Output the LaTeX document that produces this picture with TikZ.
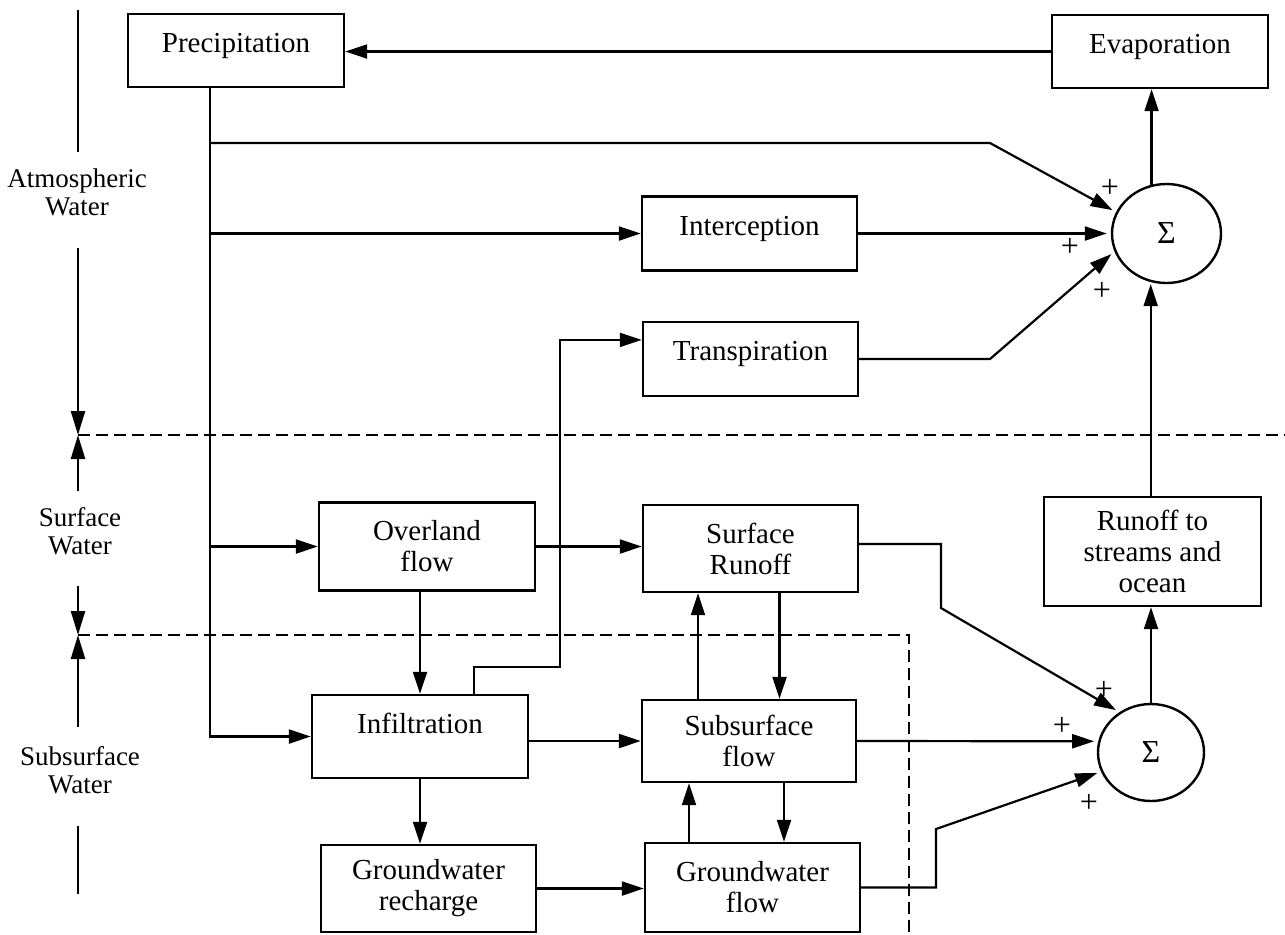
\documentclass[tikz,border=0pt]{standalone}
\usepackage{fontspec}
\setmainfont{Liberation Serif}
\usetikzlibrary{arrows.meta,shapes.geometric,calc}
\begin{document}
\begin{tikzpicture}[x=0.5pt,y=-0.5pt,
  every node/.style={font=\fontsize{14.5}{15.5}\selectfont},
  box/.style={draw, line width=1.2pt, rectangle, inner sep=2pt},
  one/.style={text height=10pt, text depth=#1},
  one/.default=8.4pt,
  two/.style={align=center},
  sig/.style={draw, line width=1.2pt, ellipse, inner sep=0pt},
  arr/.style={line width=1.1pt, -{Triangle[length=11pt,width=7pt]}},
  arrL/.style={line width=1.2pt, -{Triangle[length=12pt,width=7pt]}},
  ln/.style={line width=1.2pt},
  dsh/.style={line width=1pt, dash pattern=on 6pt off 3pt},
  side/.style={font=\fontsize{13.5}{14}\selectfont, align=center},
  pl/.style={font=\fontsize{16}{16}\selectfont, inner sep=0pt}
]
\useasboundingbox (0,0) rectangle (1285,934);

% boxes
\node[box, one, minimum width=108pt, minimum height=36.5pt] (precip) at (236,50.5) {Precipitation};
\node[box, one, minimum width=108pt, minimum height=36.5pt] (evap) at (1160,51.5) {Evaporation};
\node[box, one, minimum width=107.5pt, minimum height=37pt] (intercept) at (749.5,233.5) {Interception};
\node[box, one, minimum width=107.5pt, minimum height=37pt] (transp) at (750.5,359) {Transpiration};
\node[box, two, minimum width=108pt, minimum height=44pt] (overland) at (427,546.5) {Overland\\flow};
\node[box, two, minimum width=107.5pt, minimum height=43.5pt] (srunoff) at (750.5,548.5) {Surface\\Runoff};
\node[box, one=13.4pt, minimum width=108pt, minimum height=41.5pt] (infil) at (420,736.5) {Infiltration};
\node[box, two, minimum width=107pt, minimum height=41pt] (subsurf) at (749,741) {Subsurface\\flow};
\node[box, two, minimum width=107.5pt, minimum height=43.5pt] (gwrech) at (428.5,888.5) {Groundwater\\recharge};
\node[box, two, minimum width=107.5pt, minimum height=44.5pt] (gwflow) at (752.5,887.5) {Groundwater\\flow};
\node[box, two, minimum width=108.5pt, minimum height=54.5pt] (runoff) at (1152.5,551.5) {Runoff to\\streams and\\ocean};

% summing junctions
\node[sig, minimum width=54.5pt, minimum height=49.5pt] (sig1) at (1166.5,233.5) {\fontsize{16}{16}\selectfont Σ};
\node[sig, minimum width=53pt, minimum height=48.5pt] (sig2) at (1151,752.5) {\fontsize{16}{16}\selectfont Σ};

% plus signs
\node[pl] (p1) at (1110,188) {+};
\node[pl] (p2) at (1070,247) {+};
\node[pl] (p3) at (1102,291) {+};
\node[pl] (p4) at (1104,690) {+};
\node[pl] (p5) at (1062,726) {+};
\node[pl] (p6) at (1089,803) {+};

% side labels
\node[side] (atm) at (77,192) {Atmospheric\\Water};
\node[side] (surf) at (80,531) {Surface\\Water};
\node[side] (subs) at (80,770) {Subsurface\\Water};

% coordinates
\coordinate (pt) at (210,87);
\coordinate (b1) at (210,143);
\coordinate (k1) at (990,143);
\coordinate (k2) at (990,359);
\coordinate (r1) at (474,667);
\coordinate (r2) at (560,667);
\coordinate (k3) at (941,544);
\coordinate (k4) at (941,608);
\coordinate (k5) at (936,887.5);
\coordinate (k6) at (936,829);
\coordinate (a0) at (78,10);
\coordinate (a1) at (78,152);
\coordinate (a2) at (78,248);
\coordinate (d1) at (78,435);
\coordinate (a3) at (78,491);
\coordinate (a4) at (78,586);
\coordinate (d2) at (78,635);
\coordinate (a5) at (78,727);
\coordinate (a6) at (78,826);
\coordinate (a7) at (78,894);
\coordinate (e1) at (1285,435);
\coordinate (e2) at (909,635);
\coordinate (e3) at (909,934);

% side arrows and dashed boundaries
\draw[ln] (a0) -- (a1);
\draw[arrL] (a2) -- (d1);
\draw[arrL] (a3) -- (d1);
\draw[arrL] (a4) -- (d2);
\draw[arrL] (a5) -- (d2);
\draw[ln] (a6) -- (a7);
\draw[dsh] (d1) -- (e1);
\draw[dsh] (d2) -- (e2) -- (e3);

% connectors
\draw[arr] (evap.west) -- (precip.east |- evap.west);
\draw[arr] (pt) |- (infil.west);
\draw[arr, shorten >=2pt] (b1) -- (k1) -- (sig1.157);
\draw[arr] (pt |- intercept.west) -- (intercept.west);
\draw[arr, shorten >=2pt] (intercept.east) -- (sig1.west);
\draw[arr, shorten >=2pt] (transp.east) -- (k2) -- (sig1.199);
\draw[arr] (sig1.107) -- (sig1.107 |- evap.south);
\draw[arr, shorten >=1pt] (runoff.north -| sig1.252) -- (sig1.252);
\draw[arr] (sig2.north) -- (sig2.north |- runoff.south);
\draw[arr] (pt |- overland.west) -- (overland.west);
\draw[arr] (overland.east) -- (srunoff.west |- overland.east);
\draw[arr] (infil.north |- overland.south) -- (infil.north);
\draw[arr] (infil.north -| r1) -- (r1) -- (r2) |- ($(transp.west)!0.5!(transp.north west)$);
\draw[arr] (infil.east |- subsurf.west) -- (subsurf.west);
\draw[arr] (infil.south) -- (infil.south |- gwrech.north);
\draw[arr] (gwrech.east) -- (gwflow.west |- gwrech.east);
\draw[arr] ($(subsurf.north)+(-51,0)$) coordinate (u1) -- (u1 |- srunoff.south);
\draw[arr] ($(srunoff.south)+(29,0)$) coordinate (u2) -- (u2 |- subsurf.north);
\draw[arr] ($(gwflow.north)+(-63.5,0)$) coordinate (u3) -- (u3 |- subsurf.south);
\draw[arr] ($(subsurf.south)+(35,0)$) coordinate (u4) -- (u4 |- gwflow.north);
\draw[arr, shorten >=2pt] (subsurf.east) -- (sig2.168);
\draw[arr, shorten >=2pt] (srunoff.east |- k3) -- (k3) -- (k4) -- (sig2.128);
\draw[arr, shorten >=2pt] (gwflow.east) -- (k5) -- (k6) -- (sig2.201);
\end{tikzpicture}
\end{document}
